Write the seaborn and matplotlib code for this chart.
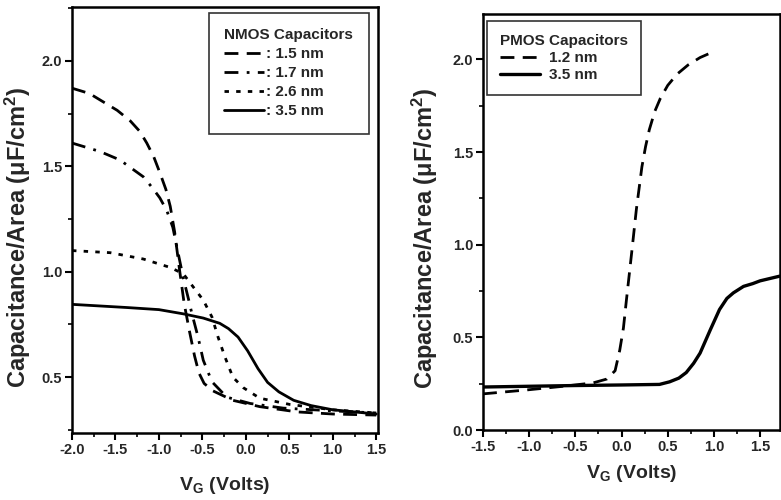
import numpy as np
import pandas as pd
import matplotlib
matplotlib.use("Agg")
import matplotlib.pyplot as plt
import seaborn as sns
from matplotlib.ticker import MultipleLocator, FormatStrFormatter

# ---------------- data ----------------
# NMOS capacitors (left panel)
nmos_15_x = [-2.0, -1.8, -1.64, -1.48, -1.33, -1.22, -1.14, -1.06, -0.99, -0.92, -0.87, -0.82, -0.76, -0.71, -0.65, -0.59, -0.54, -0.48, -0.38, -0.15, 0.16, 0.59, 1.0, 1.5]
nmos_15_y = [1.87, 1.845, 1.805, 1.765, 1.715, 1.665, 1.61, 1.545, 1.47, 1.39, 1.31, 1.19, 1.00, 0.85, 0.72, 0.60, 0.52, 0.47, 0.435, 0.39, 0.36, 0.335, 0.325, 0.32]

nmos_17_x = [-2.0, -1.68, -1.45, -1.18, -1.08, -0.99, -0.91, -0.84, -0.78, -0.72, -0.66, -0.62, -0.55, -0.49, -0.39, -0.22, 0.05, 0.43, 1.0, 1.5]
nmos_17_y = [1.61, 1.57, 1.53, 1.45, 1.40, 1.35, 1.29, 1.21, 1.09, 0.97, 0.87, 0.80, 0.69, 0.58, 0.478, 0.405, 0.375, 0.353, 0.34, 0.33]

nmos_26_x = [-2.0, -1.56, -1.18, -0.87, -0.72, -0.61, -0.49, -0.39, -0.32, -0.24, -0.15, -0.03, 0.16, 0.51, 1.0, 1.5]
nmos_26_y = [1.10, 1.09, 1.06, 1.02, 0.99, 0.93, 0.865, 0.785, 0.69, 0.595, 0.50, 0.45, 0.40, 0.37, 0.345, 0.33]

nmos_35_x = [-2.0, -1.37, -1.0, -0.72, -0.49, -0.30, -0.20, -0.09, 0.02, 0.14, 0.25, 0.38, 0.55, 0.75, 1.0, 1.5]
nmos_35_y = [0.845, 0.83, 0.82, 0.80, 0.78, 0.755, 0.73, 0.69, 0.625, 0.54, 0.475, 0.43, 0.39, 0.365, 0.345, 0.325]

# PMOS capacitors (right panel)
pmos_12_x = [-1.5, -1.03, -0.67, -0.31, -0.16, -0.07, -0.02, 0.02, 0.05, 0.11, 0.16, 0.22, 0.26, 0.30, 0.36, 0.42, 0.50, 0.60, 0.72, 0.85, 1.01]
pmos_12_y = [0.195, 0.216, 0.234, 0.254, 0.275, 0.32, 0.43, 0.55, 0.69, 0.96, 1.19, 1.42, 1.53, 1.62, 1.72, 1.79, 1.86, 1.92, 1.97, 2.01, 2.045]

pmos_35_x = [-1.5, -1.0, -0.5, 0.0, 0.41, 0.52, 0.62, 0.70, 0.78, 0.85, 0.96, 1.06, 1.14, 1.21, 1.32, 1.42, 1.50, 1.71]
pmos_35_y = [0.232, 0.236, 0.240, 0.243, 0.246, 0.26, 0.28, 0.31, 0.36, 0.415, 0.54, 0.65, 0.71, 0.74, 0.775, 0.79, 0.805, 0.83]

nmos_labels = [": 1.5 nm", ": 1.7 nm", ": 2.6 nm", ": 3.5 nm"]
pmos_labels = ["1.2 nm", "3.5 nm"]

# ---------------- style ----------------
sns.set_theme(style="ticks")
plt.rcParams["font.family"] = ["Liberation Sans", "DejaVu Sans"]
plt.rcParams["font.weight"] = "bold"
plt.rcParams["axes.labelweight"] = "bold"
plt.rcParams["mathtext.fontset"] = "custom"
plt.rcParams["mathtext.rm"] = "Liberation Sans:bold"
plt.rcParams["mathtext.bf"] = "Liberation Sans:bold"
plt.rcParams["mathtext.it"] = "Liberation Sans:bold"

fig = plt.figure(figsize=(7.81, 5.0), dpi=100)
ax1 = fig.add_axes([72/781, 1-433/500, 306/781, 426/500])
ax2 = fig.add_axes([483/781, 1-430/500, 297/781, 416/500])

styles_l = [(0, (5, 3)), (0, (5, 3, 1, 3)), (0, (1.6, 2.6)), "-"]
xs_l = [nmos_15_x, nmos_17_x, nmos_26_x, nmos_35_x]
ys_l = [nmos_15_y, nmos_17_y, nmos_26_y, nmos_35_y]
for x, y, ls, lab in zip(xs_l, ys_l, styles_l, nmos_labels):
    sns.lineplot(x=x, y=y, ax=ax1, color="black", linestyle=ls, linewidth=2.0,
                 label=lab, sort=False, estimator=None)

styles_r = [(0, (5, 3)), "-"]
xs_r = [pmos_12_x, pmos_35_x]
ys_r = [pmos_12_y, pmos_35_y]
lws_r = [2.0, 2.4]
for x, y, ls, lab, lw in zip(xs_r, ys_r, styles_r, pmos_labels, lws_r):
    sns.lineplot(x=x, y=y, ax=ax2, color="black", linestyle=ls, linewidth=lw,
                 label=lab, sort=False, estimator=None)

ax1.set_xlim(-2.0, 1.52)
ax1.set_ylim(0.235, 2.255)
ax2.set_xlim(-1.5, 1.715)
ax2.set_ylim(0.0, 2.245)

ylab = "Capacitance/Area (μF/cm$^{2}$)"
xlab = "V$_{\\mathrm{G}}$ (Volts)"
for ax in (ax1, ax2):
    ax.xaxis.set_major_locator(MultipleLocator(0.5))
    ax.xaxis.set_minor_locator(MultipleLocator(0.25))
    ax.yaxis.set_major_locator(MultipleLocator(0.5))
    ax.yaxis.set_minor_locator(MultipleLocator(0.25))
    ax.xaxis.set_major_formatter(FormatStrFormatter("%.1f"))
    ax.yaxis.set_major_formatter(FormatStrFormatter("%.1f"))
    ax.tick_params(which="major", direction="out", length=5, width=1.5,
                   labelsize=10.5, color="black", pad=2)
    ax.tick_params(which="minor", direction="out", length=3, width=1.2, color="black")
    for lbl in ax.get_xticklabels() + ax.get_yticklabels():
        lbl.set_fontweight("bold")
    for s in ax.spines.values():
        s.set_visible(True)
        s.set_linewidth(1.8)
        s.set_color("black")
    ax.set_ylabel(ylab, fontsize=17, fontweight="bold")
    ax.set_xlabel(xlab, fontsize=14, fontweight="bold")
    ax.set_facecolor("white")

ax1.yaxis.set_label_coords(-0.127, 0.46)
ax1.xaxis.set_label_coords(0.5, -0.098)
ax2.yaxis.set_label_coords(-0.145, 0.46)
ax2.xaxis.set_label_coords(0.5, -0.08)

leg1 = ax1.legend(title="NMOS Capacitors", loc="upper left", bbox_to_anchor=(0.448, 0.986),
                  borderaxespad=0, frameon=True, fancybox=False, edgecolor="black",
                  fontsize=11, title_fontsize=11, handlelength=2.6, handletextpad=0.1,
                  labelspacing=0.33, borderpad=1.0)
leg1.get_frame().set_linewidth(1.2)
leg1.get_title().set_fontweight("bold")
leg1._legend_box.align = "left"
for t in leg1.get_texts():
    t.set_fontweight("bold")

leg2 = ax2.legend(title="PMOS Capacitors", loc="upper left", bbox_to_anchor=(0.013, 0.983),
                  borderaxespad=0, frameon=True, fancybox=False, edgecolor="black",
                  fontsize=11, title_fontsize=11, handlelength=2.6, handletextpad=0.6,
                  labelspacing=0.2, borderpad=0.85)
leg2.get_frame().set_linewidth(1.2)
leg2.get_title().set_fontweight("bold")
leg2._legend_box.align = "left"
for t in leg2.get_texts():
    t.set_fontweight("bold")

fig.savefig("out.png", dpi=100, facecolor="white")
